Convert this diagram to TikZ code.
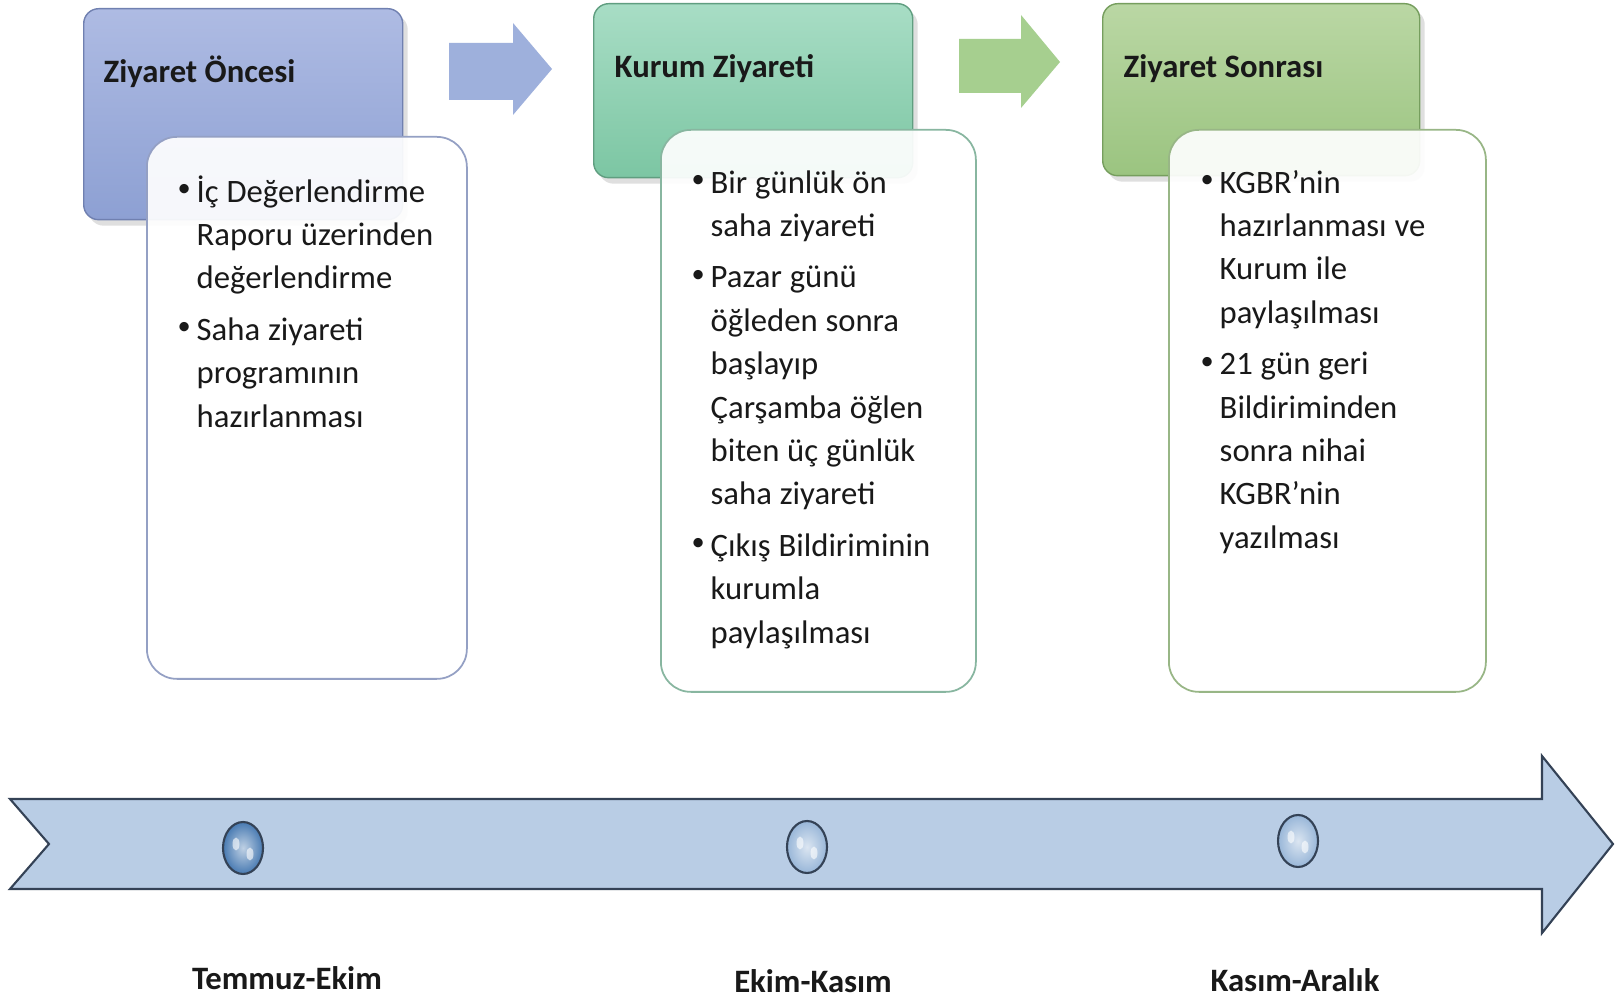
\documentclass[tikz,border=0pt]{standalone}
\usepackage{fontspec}
\setmainfont{Carlito}
\usetikzlibrary{positioning, shapes.geometric, shadows}

\definecolor{zoBlueTop}{RGB}{174,187,227}
\definecolor{zoBlueBot}{RGB}{141,160,211}
\definecolor{zoBlueLine}{RGB}{112,128,176}
\definecolor{kzTealTop}{RGB}{168,221,197}
\definecolor{kzTealBot}{RGB}{124,198,163}
\definecolor{kzTealLine}{RGB}{96,158,128}
\definecolor{zsGreenTop}{RGB}{186,215,164}
\definecolor{zsGreenBot}{RGB}{155,196,128}
\definecolor{zsGreenLine}{RGB}{118,158,94}
\definecolor{lineBlue}{RGB}{185,205,229}
\definecolor{lineEdge}{RGB}{52,66,86}
\definecolor{arrBlue}{RGB}{158,176,220}
\definecolor{arrGreen}{RGB}{166,207,143}
\definecolor{bubDark}{RGB}{72,122,178}
\definecolor{bubLight}{RGB}{152,182,216}

\newcommand{\bodyfont}{\fontsize{9.3pt}{12.35pt}\selectfont\setlength{\parskip}{0.8mm}}
\newcommand{\dotmark}{\hspace{-0.3mm}\raisebox{0.35ex}{\fontsize{7.5pt}{7.5pt}\selectfont\textbullet}}
\newcommand{\itm}{\par\spaceskip=0.24em plus 0.1em\hangindent=1.6mm\hangafter=1\noindent\strut\makebox[1.6mm][l]{\dotmark}}

\begin{document}
\begin{tikzpicture}[
    every node/.style={text=black!90},
    header/.style={draw=#1Line, top color=#1Top, bottom color=#1Bot, rounded corners=1.5mm,
        anchor=north west, line width=0.4pt,
        drop shadow={opacity=0.25, shadow xshift=0.5mm, shadow yshift=-0.6mm}},
    card/.style={draw=#1Line!75, fill=white, fill opacity=0.92, rounded corners=3mm,
        anchor=north west, line width=0.5pt},
    title/.style={font=\bodyfont\bfseries, anchor=west, inner sep=0pt},
    bullets/.style={font=\bodyfont, text width=2.9cm, align=left, inner sep=0pt},
    bubble/.style={ellipse, draw=lineEdge, line width=0.6pt, minimum width=0.40cm,
        minimum height=0.52cm, inner sep=0pt, shading=radial,
        inner color=#1!35!white, outer color=#1},
    period/.style={font=\bodyfont\bfseries},
    timeline/.style={fill=lineBlue, draw=lineEdge, line width=0.6pt, line join=miter}
]

\fill[white] (0,0) rectangle (16.17,9.99);
\useasboundingbox (0,0) rectangle (16.17,9.99);

% Headers
\node[header=zoBlue, minimum width=3.19cm, minimum height=2.11cm] (h1) at (0.83,9.91) {};
\node[header=kzTeal, minimum width=3.19cm, minimum height=1.74cm] (h2) at (5.93,9.96) {};
\node[header=zsGreen, minimum width=3.17cm, minimum height=1.72cm] (h3) at (11.02,9.96) {};

\node[title] (t1) at ([xshift=2mm, yshift=-6.4mm]h1.north west) {Ziyaret Öncesi};
\node[title] (t2) at ([xshift=2.1mm, yshift=-6.6mm]h2.north west) {Kurum Ziyareti};
\node[title] (t3) at ([xshift=2.1mm, yshift=-6.6mm]h3.north west) {Ziyaret Sonrası};

% Cards
\node[card=zoBlue, minimum width=3.20cm, minimum height=5.42cm] (c1) at (1.46,8.63) {};
\node[card=kzTeal, minimum width=3.15cm, minimum height=5.62cm] (c2) at (6.60,8.70) {};
\node[card=zsGreen, minimum width=3.17cm, minimum height=5.62cm] (c3) at (11.68,8.70) {};

\node[bullets, below right=1.4mm and 3.4mm of c1.north west] (b1) {%
\itm İç Değerlendirme\newline Raporu üzerinden\newline değerlendirme
\itm Saha ziyareti\newline programının\newline hazırlanması\par};
\node[bullets, below right=1.2mm and 3.4mm of c2.north west] (b2) {%
\itm Bir günlük ön\newline saha ziyareti
\itm Pazar günü\newline öğleden sonra\newline başlayıp\newline Çarşamba öğlen\newline biten üç günlük\newline saha ziyareti
\itm Çıkış Bildiriminin\newline kurumla\newline paylaşılması\par};
\node[bullets, below right=1.2mm and 3.5mm of c3.north west] (b3) {%
\itm KGBR’nin\newline hazırlanması ve\newline Kurum ile\newline paylaşılması
\itm 21 gün geri\newline Bildiriminden\newline sonra nihai\newline KGBR’nin\newline yazılması\par};

% Block arrows
\fill[arrBlue] (4.49,9.56) -- (5.13,9.56) -- (5.13,9.76) -- (5.52,9.30)
    -- (5.13,8.84) -- (5.13,8.99) -- (4.49,8.99) -- cycle;
\fill[arrGreen] (9.59,9.60) -- (10.21,9.60) -- (10.21,9.84) -- (10.60,9.37)
    -- (10.21,8.91) -- (10.21,9.06) -- (9.59,9.06) -- cycle;

% Timeline
\draw[timeline] (0.10,2.00) -- (15.42,2.00) -- (15.42,2.43) -- (16.13,1.55)
    -- (15.42,0.66) -- (15.42,1.10) -- (0.10,1.10) -- (0.49,1.55) -- cycle;

\node[bubble=bubDark] (m1) at (2.43,1.51) {};
\node[bubble=bubLight] (m2) at (8.07,1.52) {};
\node[bubble=bubLight] (m3) at (12.98,1.58) {};
\foreach \m in {m1,m2,m3} {
    \fill[white, opacity=0.6] ([shift={(-0.07,0.04)}]\m.center) ellipse (0.035 and 0.065);
    \fill[white, opacity=0.6] ([shift={(0.07,-0.06)}]\m.center) ellipse (0.035 and 0.065);
}

\node[period] (p1) at (2.87,0.21) {Temmuz-Ekim};
\node[period] (p2) at (8.13,0.18) {Ekim-Kasım};
\node[period] (p3) at (12.95,0.19) {Kasım-Aralık};

\end{tikzpicture}
\end{document}
